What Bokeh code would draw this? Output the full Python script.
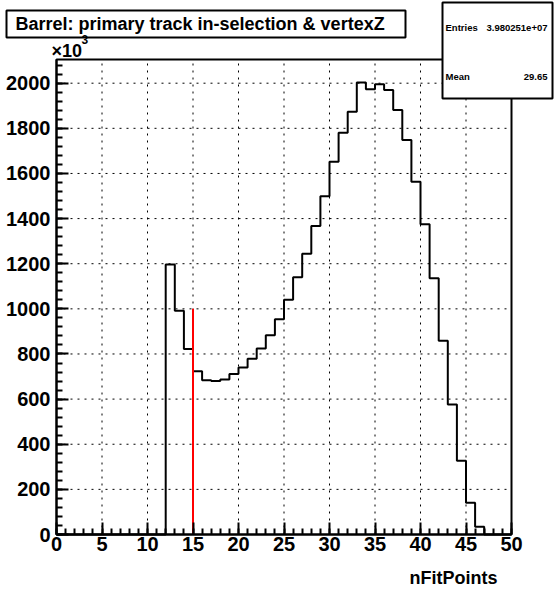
from bokeh.plotting import figure
from bokeh.models import FixedTicker, Label, BoxAnnotation
from bokeh.embed import file_html
from bokeh.resources import INLINE

# ---- data ----
bin_low_edges = list(range(0, 50))
counts = [0] * 12 + [
    1197, 992, 822, 723, 684, 680, 687, 711, 740, 779, 824, 883, 954,
    1040, 1140, 1244, 1367, 1499, 1652, 1780, 1874, 2003, 1973, 1995,
    1970, 1881, 1748, 1563, 1375, 1136, 859, 576, 327, 141, 34,
] + [0, 0, 0]
x_ticks = list(range(0, 51, 5))
x_minor = list(range(0, 51))
y_ticks = list(range(0, 2001, 200))
y_minor = list(range(0, 2101, 40))
cut_x = [15]
cut_top = [1000]
title_text = "Barrel: primary track in-selection & vertexZ"
x_title = "nFitPoints"
stat_names = ["Entries", "Mean"]
stat_values = ["3.980251e+07", "29.65"]

FONT = "Liberation Sans"
W, H = 554, 595
# ROOT frame in pixels
FL, FR, FT, FB = 56, 511, 59, 534
X0, X1 = 0, 50
Y0, Y1 = 0, 2105
sx = (FR - FL) / (X1 - X0)
sy = (FB - FT) / (Y1 - Y0)

p = figure(width=W, height=H,
           x_range=(X0 - FL / sx, X1 + (W - FR) / sx),
           y_range=(Y0 - (H - FB) / sy, Y1 + FT / sy),
           output_backend="svg", toolbar_location=None, min_border=0)
p.title.visible = False
p.background_fill_color = "white"
p.border_fill_color = "white"
p.outline_line_color = None
p.xgrid.visible = False
p.ygrid.visible = False

# axes (fixed at the ROOT frame edges)
p.xaxis.ticker = FixedTicker(ticks=x_ticks, minor_ticks=x_minor)
p.yaxis.ticker = FixedTicker(ticks=y_ticks, minor_ticks=y_minor)
p.xaxis.fixed_location = Y0
p.yaxis.fixed_location = X0
p.xaxis.bounds = (X0, X1)
p.yaxis.bounds = (Y0, Y1)
for ax in (p.xaxis[0], p.yaxis[0]):
    ax.axis_line_width = 2
    ax.axis_line_color = "black"
    ax.major_tick_in = 12
    ax.major_tick_out = 0
    ax.minor_tick_in = 6
    ax.minor_tick_out = 0
    ax.major_tick_line_width = 2
    ax.minor_tick_line_width = 2
    ax.major_tick_line_color = "black"
    ax.minor_tick_line_color = "black"
    ax.major_label_text_font = FONT
    ax.major_label_text_font_style = "bold"
    ax.major_label_text_font_size = "20px"
    ax.major_label_text_color = "black"
p.xaxis.major_label_standoff = 2
p.yaxis.major_label_standoff = 6

# dotted grid at the major ticks, inside the frame
p.segment(x0=x_ticks, y0=[Y0] * len(x_ticks), x1=x_ticks, y1=[Y1] * len(x_ticks),
          line_color="black", line_width=1, line_dash="2 5")
p.segment(x0=[X0] * len(y_ticks), y0=y_ticks, x1=[X1] * len(y_ticks), y1=y_ticks,
          line_color="black", line_width=1, line_dash="2 5")

# histogram outline
edges = bin_low_edges + [X1]
vals = counts + [counts[-1]]
p.step(x=edges, y=vals, mode="after", line_color="black", line_width=2)

# cut line
p.segment(x0=cut_x, y0=[0], x1=cut_x, y1=cut_top, line_color="red", line_width=2)

# frame box
p.add_layout(BoxAnnotation(left=X0, right=X1, bottom=Y0, top=Y1,
                           fill_alpha=0, line_color="black", line_alpha=1,
                           line_width=2))


def scr_box(l, r, t, b):
    return BoxAnnotation(left=l, right=r, top=H - t, bottom=H - b,
                         left_units="screen", right_units="screen",
                         top_units="screen", bottom_units="screen",
                         fill_color="white", fill_alpha=1,
                         line_color="black", line_alpha=1, line_width=2,
                         level="overlay")


def scr_label(x, y, text, size, align="left", style="bold"):
    return Label(x=x, y=H - y, x_units="screen", y_units="screen", text=text,
                 text_font=FONT, text_font_style=style, text_font_size=size,
                 text_color="black", text_baseline="middle", text_align=align,
                 level="overlay")


# title box
p.add_layout(scr_box(6, 405, 10, 37))
p.add_layout(scr_label(15, 23.5, title_text, "18px"))

# stats box
p.add_layout(scr_box(442, 552, 2, 98))
for i, (nm, vv) in enumerate(zip(stat_names, stat_values)):
    yy = 27 + 49 * i
    p.add_layout(scr_label(445, yy, nm, "9.5px"))
    p.add_layout(scr_label(547, yy, vv, "9.5px", align="right"))

# x10^3 exponent
p.add_layout(scr_label(51, 50, "\u00d710", "18px"))
p.add_layout(scr_label(81, 39, "3", "12px"))

# x axis title
p.add_layout(scr_label(497, 577, x_title, "18px", align="right"))

open("out.html", "w").write(file_html(p, INLINE))
